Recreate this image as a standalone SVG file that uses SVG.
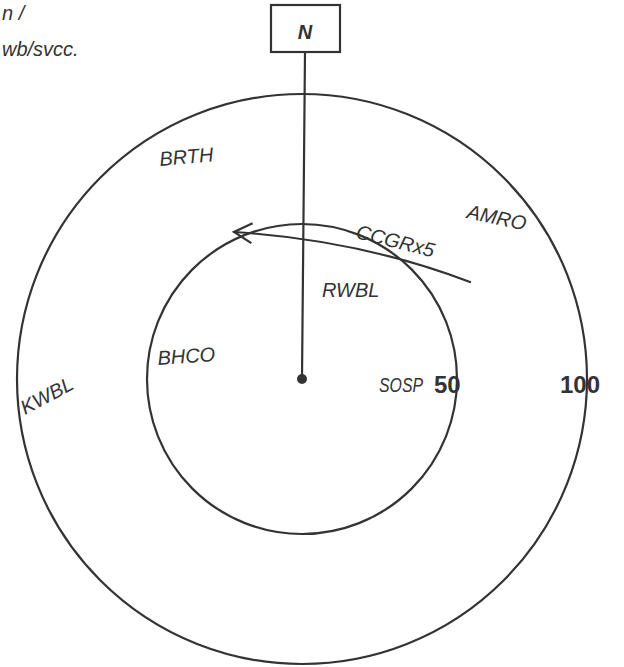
<svg xmlns="http://www.w3.org/2000/svg" width="624" height="667" viewBox="0 0 624 667">
<style>
.ln{fill:none;stroke:#333;stroke-width:2.2;stroke-linecap:round}
.hw{font-family:"Liberation Sans",Arial,sans-serif;font-style:italic;font-size:20px;fill:#333}
.num{font-family:"Liberation Sans",Arial,sans-serif;font-weight:bold;font-size:24px;fill:#333}
</style>
<defs>
<marker id="open" viewBox="0 0 24 24" refX="22" refY="12" markerWidth="24" markerHeight="24" orient="auto" markerUnits="userSpaceOnUse">
<path d="M4 2 L22 12 L4 22" fill="none" stroke="#333" stroke-width="2.2"/>
</marker>
</defs>
<rect width="624" height="667" fill="#fff"/>
<g id="rings">
<circle class="ln" cx="302" cy="379" r="285"/>
<circle class="ln" cx="302" cy="379" r="155"/>
</g>
<g id="north">
<rect class="ln" x="271" y="5" width="69" height="47"/>
<text x="305" y="39" text-anchor="middle" class="hw" font-size="28" font-weight="bold">N</text>
</g>
<g id="connectors">
<line class="ln" x1="305" y1="52" x2="302" y2="379"/>
<path class="ln" d="M470 282 Q360 240 234 232" marker-end="url(#open)"/>
</g>
<g id="center"><circle cx="302" cy="379" r="5" fill="#333"/></g>
<g id="labels">
<text class="hw" x="2" y="20" font-size="22">n /</text>
<text class="hw" x="2" y="56" font-size="22">wb/svcc.</text>
<text class="hw" x="160" y="166" transform="rotate(-5 160 166)">BRTH</text>
<text class="hw" x="466" y="218" transform="rotate(12 466 218)" font-size="18">AMRO</text>
<text class="hw" x="355" y="238" transform="rotate(14 355 238)" font-size="18">CCGRx5</text>
<text class="hw" x="322" y="297">RWBL</text>
<text class="hw" x="25" y="415" transform="rotate(-28 25 415)" font-size="22">KWBL</text>
<text class="hw" x="158" y="365" transform="rotate(-4 158 365)">BHCO</text>
<text class="hw" x="379" y="392" font-size="16" textLength="44" lengthAdjust="spacingAndGlyphs">SOSP</text>
<text class="num" x="434" y="393">50</text>
<text class="num" x="560" y="393">100</text>
</g>
</svg>
